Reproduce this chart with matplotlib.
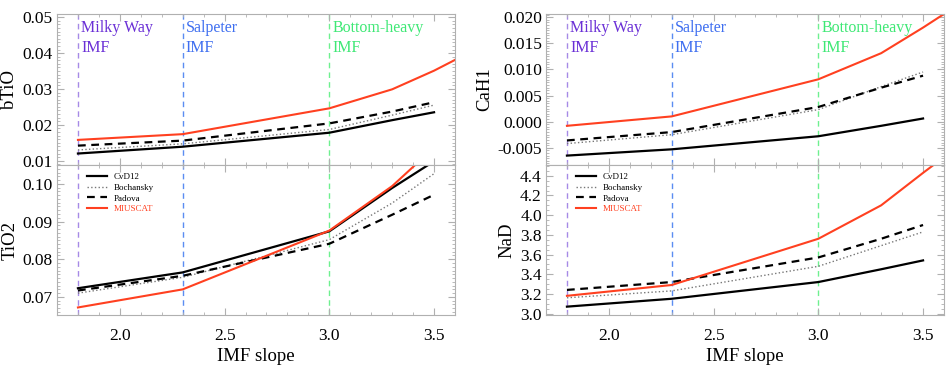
import matplotlib
matplotlib.use('Agg')
import matplotlib.pyplot as plt
from matplotlib.ticker import MultipleLocator, AutoMinorLocator

plt.rcParams['font.family'] = ['Liberation Serif', 'DejaVu Serif']
plt.rcParams['axes.unicode_minus'] = False

# IMF slopes sampled by each model
slopes = [1.8, 2.3, 3.0, 3.3, 3.5]
slopes_mius = [1.8, 2.3, 3.0, 3.3, 3.5, 3.6]

# bTiO
btio_cvd = [0.0120, 0.0139, 0.0178, 0.0213, 0.0235]
btio_boch = [0.0130, 0.0147, 0.0187, 0.0227, 0.0255]
btio_pad = [0.0142, 0.0156, 0.0204, 0.0237, 0.0263]
btio_mius = [0.0158, 0.0174, 0.0246, 0.0299, 0.0351, 0.0381]

# TiO2
tio2_cvd = [0.0723, 0.0765, 0.0874, 0.0989, 0.1060]
tio2_boch = [0.0710, 0.0752, 0.0852, 0.0949, 0.1027]
tio2_pad = [0.0717, 0.0756, 0.0841, 0.0918, 0.0971]
tio2_mius = [0.0672, 0.0720, 0.0876, 0.0994, 0.1096, 0.1150]

# CaH1
cah1_cvd = [-0.0065, -0.0053, -0.0028, -0.0008, 0.0006]
cah1_boch = [-0.0042, -0.0025, 0.0023, 0.0067, 0.0095]
cah1_pad = [-0.0036, -0.0020, 0.0028, 0.0065, 0.0088]
cah1_mius = [-0.0008, 0.0010, 0.0081, 0.0131, 0.0180, 0.0206]

# NaD
nad_cvd = [3.07, 3.15, 3.32, 3.45, 3.54]
nad_boch = [3.16, 3.23, 3.48, 3.69, 3.83]
nad_pad = [3.24, 3.32, 3.57, 3.76, 3.90]
nad_mius = [3.18, 3.29, 3.76, 4.10, 4.43, 4.59]

imf_lines = [1.8, 2.3, 3.0]
imf_names = ['Milky Way\nIMF', 'Salpeter\nIMF', 'Bottom-heavy\nIMF']
vline_cols = ['#a68ae6', '#5b8df2', '#6ef08f']
text_cols = ['#6a2fd6', '#3f6ff0', '#3ee875']

RED = '#ff4020'
FRAME = '#b0b0b0'

fig = plt.figure(figsize=(9.49, 3.82), dpi=100)
W, H = 949, 382

def make_ax(x0, x1, y0, y1):
    return fig.add_axes([x0 / W, 1 - y1 / H, (x1 - x0) / W, (y1 - y0) / H])

def style(ax, ymaj, yminor_n):
    ax.set_xlim(1.7, 3.6)
    ax.xaxis.set_major_locator(MultipleLocator(0.5))
    ax.xaxis.set_minor_locator(MultipleLocator(0.1))
    ax.yaxis.set_major_locator(MultipleLocator(ymaj))
    ax.yaxis.set_minor_locator(AutoMinorLocator(yminor_n))
    ax.tick_params(which='both', direction='in', top=True, right=True,
                   color=FRAME, labelsize=12.5)
    ax.tick_params(which='major', length=5)
    ax.tick_params(which='minor', length=2.5)
    ax.tick_params(axis='x', pad=9)
    ax.tick_params(axis='y', pad=3)
    for s in ax.spines.values():
        s.set_color(FRAME)
        s.set_linewidth(0.8)

def draw(ax, cvd, boch, pad, mius):
    for xv, c in zip(imf_lines, vline_cols):
        ax.axvline(xv, color=c, ls=(0, (4, 3)), lw=1.0, zorder=1)
    ax.plot(slopes, cvd, color='black', lw=1.6, label='CvD12')
    ax.plot(slopes, boch, color='#777777', lw=1.0, ls=':', label='Bochansky')
    ax.plot(slopes, pad, color='black', lw=1.6, ls=(0, (3.5, 2.5)), label='Padova')
    ax.plot(slopes_mius, mius, color=RED, lw=1.5, label='MIUSCAT')

panels = [
    (57, 455, 'bTiO', 'TiO2', btio_cvd, btio_boch, btio_pad, btio_mius,
     tio2_cvd, tio2_boch, tio2_pad, tio2_mius,
     (0.0088, 0.0509), 0.01, (0.0652, 0.1050), 0.01),
    (546, 944, 'CaH1', 'NaD', cah1_cvd, cah1_boch, cah1_pad, cah1_mius,
     nad_cvd, nad_boch, nad_pad, nad_mius,
     (-0.0083, 0.0206), 0.005, (2.985, 4.51), 0.2),
]

for (x0, x1, lab_t, lab_b, a1, a2, a3, a4, b1, b2, b3, b4,
     ylt, mt, ylb, mb) in panels:
    top = make_ax(x0, x1, 14, 165)
    bot = make_ax(x0, x1, 165, 315)

    draw(top, a1, a2, a3, a4)
    top.set_ylim(*ylt)
    style(top, mt, 10)
    top.tick_params(labelbottom=False)
    top.set_ylabel(lab_t, fontsize=13.5, labelpad=3)
    for xv, name, c in zip(imf_lines, imf_names, text_cols):
        top.text(xv + 0.015, 0.96, name, color=c, fontsize=11.5,
                 transform=top.get_xaxis_transform(), va='top', ha='left',
                 linespacing=1.3)

    draw(bot, b1, b2, b3, b4)
    bot.set_ylim(*ylb)
    style(bot, mb, 10 if mb == 0.01 else 4)
    bot.set_ylabel(lab_b, fontsize=13.5, labelpad=3)
    bot.set_xlabel('IMF slope', fontsize=13.5, labelpad=3)
    leg = bot.legend(loc='upper left', frameon=False, fontsize=6.5,
                     handlelength=2.2, labelspacing=0.25,
                     bbox_to_anchor=(0.055, 1.0))
    for t in leg.get_texts():
        if t.get_text() == 'MIUSCAT':
            t.set_color(RED)

fig.savefig('out.png', dpi=100)
